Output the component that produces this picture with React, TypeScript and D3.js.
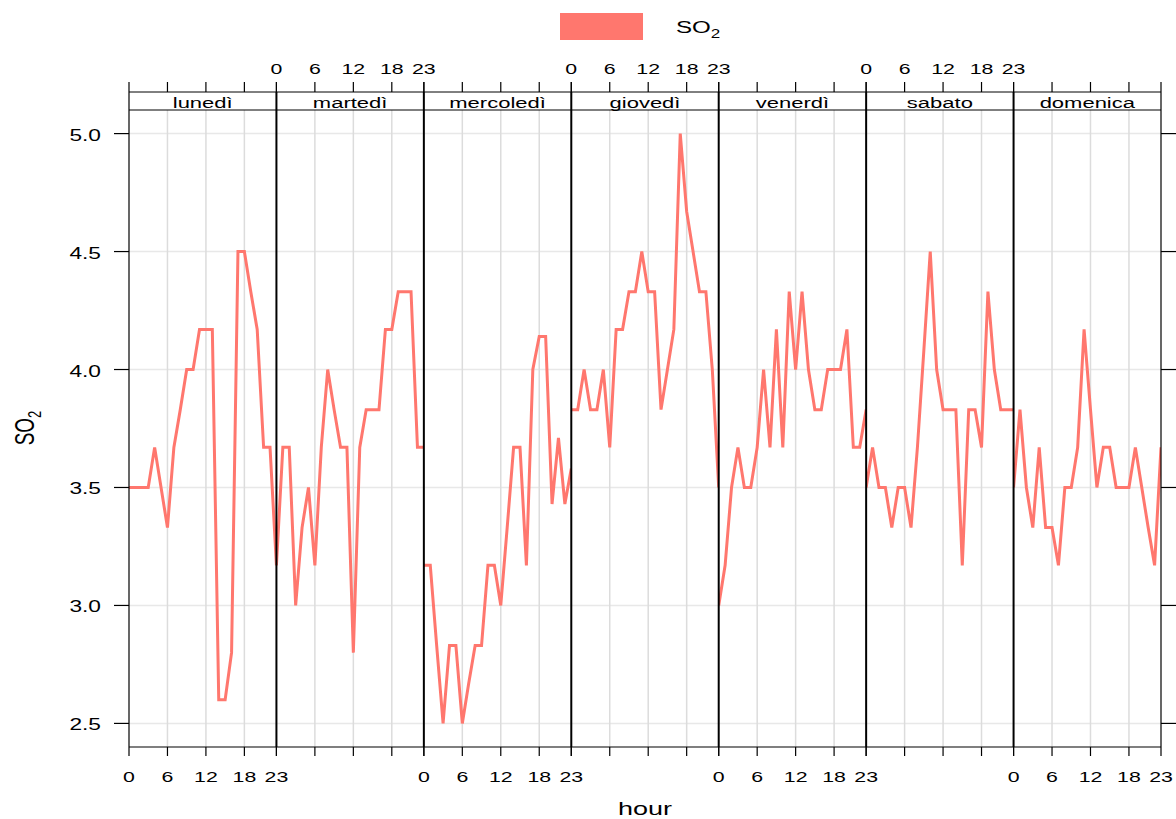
import React from "react";
import * as d3 from "d3";

const days = ["lunedì", "martedì", "mercoledì", "giovedì", "venerdì", "sabato", "domenica"];
const hours = d3.range(0, 24);
const xTicks = [0, 6, 12, 18, 23];
const yTicks = [2.5, 3.0, 3.5, 4.0, 4.5, 5.0];

const lunedi = [3.5, 3.5, 3.5, 3.5, 3.67, 3.5, 3.33, 3.67, 3.83, 4.0, 4.0, 4.17, 4.17, 4.17, 2.6, 2.6, 2.8, 4.5, 4.5, 4.33, 4.17, 3.67, 3.67, 3.17];
const martedi = [3.17, 3.67, 3.67, 3.0, 3.33, 3.5, 3.17, 3.67, 4.0, 3.83, 3.67, 3.67, 2.8, 3.67, 3.83, 3.83, 3.83, 4.17, 4.17, 4.33, 4.33, 4.33, 3.67, 3.67];
const mercoledi = [3.17, 3.17, 2.83, 2.5, 2.83, 2.83, 2.5, 2.67, 2.83, 2.83, 3.17, 3.17, 3.0, 3.33, 3.67, 3.67, 3.17, 4.0, 4.14, 4.14, 3.43, 3.71, 3.43, 3.58];
const giovedi = [3.83, 3.83, 4.0, 3.83, 3.83, 4.0, 3.67, 4.17, 4.17, 4.33, 4.33, 4.5, 4.33, 4.33, 3.83, 4.0, 4.17, 5.0, 4.67, 4.5, 4.33, 4.33, 4.0, 3.5];
const venerdi = [3.0, 3.17, 3.5, 3.67, 3.5, 3.5, 3.67, 4.0, 3.67, 4.17, 3.67, 4.33, 4.0, 4.33, 4.0, 3.83, 3.83, 4.0, 4.0, 4.0, 4.17, 3.67, 3.67, 3.83];
const sabato = [3.5, 3.67, 3.5, 3.5, 3.33, 3.5, 3.5, 3.33, 3.67, 4.08, 4.5, 4.0, 3.83, 3.83, 3.83, 3.17, 3.83, 3.83, 3.67, 4.33, 4.0, 3.83, 3.83, 3.83];
const domenica = [3.5, 3.83, 3.5, 3.33, 3.67, 3.33, 3.33, 3.17, 3.5, 3.5, 3.67, 4.17, 3.83, 3.5, 3.67, 3.67, 3.5, 3.5, 3.5, 3.67, 3.5, 3.33, 3.17, 3.67];
const series = [lunedi, martedi, mercoledi, giovedi, venerdi, sabato, domenica];

const W = 1176, H = 819;
const left = 129, right = 1161, top = 110, bottom = 747;
const stripTop = 92;
const color = "#FF776E";
const font = "'Liberation Sans', Arial, sans-serif";
const SX = 1.42;

function T({ x, y, size, anchor = "middle", rotate = 0, children }: any) {
  return (
    <text
      transform={`translate(${x},${y}) scale(${SX},1) rotate(${rotate})`}
      fontSize={size}
      textAnchor={anchor}
      fill="#000"
    >
      {children}
    </text>
  );
}

export default function App() {
  const pw = (right - left) / days.length;
  const y = d3.scaleLinear().domain([2.4, 5.1]).range([bottom, top]);
  const fmt = d3.format(".1f");
  return (
    <svg width={W} height={H} style={{ position: "absolute", left: 0, top: 0, background: "#fff" }} fontFamily={font}>
      <defs>
        {days.map((d, i) => (
          <clipPath id={`clip${i}`} key={d}>
            <rect x={left + i * pw} y={top} width={pw} height={bottom - top} />
          </clipPath>
        ))}
      </defs>
      {/* legend */}
      <rect x={560} y={13} width={83} height={27} fill={color} />
      <T x={676} y={33} size={17} anchor="start">
        SO<tspan fontSize={12} dy={5}>2</tspan>
      </T>
      {/* horizontal grid */}
      {yTicks.map((t) => (
        <line key={t} x1={left} x2={right} y1={y(t)} y2={y(t)} stroke="#e8e8e8" strokeWidth={1.5} />
      ))}
      {days.map((d, i) => {
        const x = d3.scaleLinear().domain([0, 23]).range([left + i * pw, left + (i + 1) * pw]);
        const line = d3.line<number>().x((_, k) => x(hours[k])).y((v) => y(v));
        const labelTop = i % 2 === 1;
        return (
          <g key={d}>
            {xTicks.slice(1, 4).map((t) => (
              <line key={t} x1={x(t)} x2={x(t)} y1={top} y2={bottom} stroke="#dcdcdc" strokeWidth={1.5} />
            ))}
            <path d={line(series[i]) || ""} fill="none" stroke={color} strokeWidth={3} clipPath={`url(#clip${i})`} strokeLinejoin="miter" />
            {xTicks.map((t) => (
              <line key={"tt" + t} x1={x(t)} x2={x(t)} y1={stripTop} y2={stripTop - 10} stroke="#000" strokeWidth={1.2} />
            ))}
            {xTicks.map((t) => (
              <line key={"bt" + t} x1={x(t)} x2={x(t)} y1={bottom} y2={bottom + 9} stroke="#000" strokeWidth={1.2} />
            ))}
            {xTicks.map((t) => (
              <T key={"lb" + t} x={x(t)} y={labelTop ? 74 : 782} size={15}>
                {t}
              </T>
            ))}
            <T x={left + i * pw + pw / 2} y={108} size={15.5}>
              {d}
            </T>
          </g>
        );
      })}
      <line x1={left} x2={right} y1={stripTop} y2={stripTop} stroke="#000" strokeWidth={1} />
      <line x1={left} x2={right} y1={top} y2={top} stroke="#000" strokeWidth={1} />
      {d3.range(0, days.length + 1).map((i) => (
        <line key={i} x1={left + i * pw} x2={left + i * pw} y1={stripTop} y2={bottom} stroke="#000" strokeWidth={i === 0 || i === days.length ? 1.2 : 2} />
      ))}
      <line x1={left} x2={right} y1={bottom} y2={bottom} stroke="#000" strokeWidth={1.2} />
      {yTicks.map((t) => (
        <g key={t}>
          <line x1={left - 15} x2={left} y1={y(t)} y2={y(t)} stroke="#000" strokeWidth={1.2} />
          <line x1={right} x2={right + 15} y1={y(t)} y2={y(t)} stroke="#000" strokeWidth={1.2} />
          <T x={101} y={y(t) + 7} size={16} anchor="end">
            {fmt(t)}
          </T>
        </g>
      ))}
      <T x={34} y={428} size={19} rotate={-90}>
        SO<tspan fontSize={13} dy={5}>2</tspan>
      </T>
      <T x={645} y={815} size={19}>
        hour
      </T>
    </svg>
  );
}
